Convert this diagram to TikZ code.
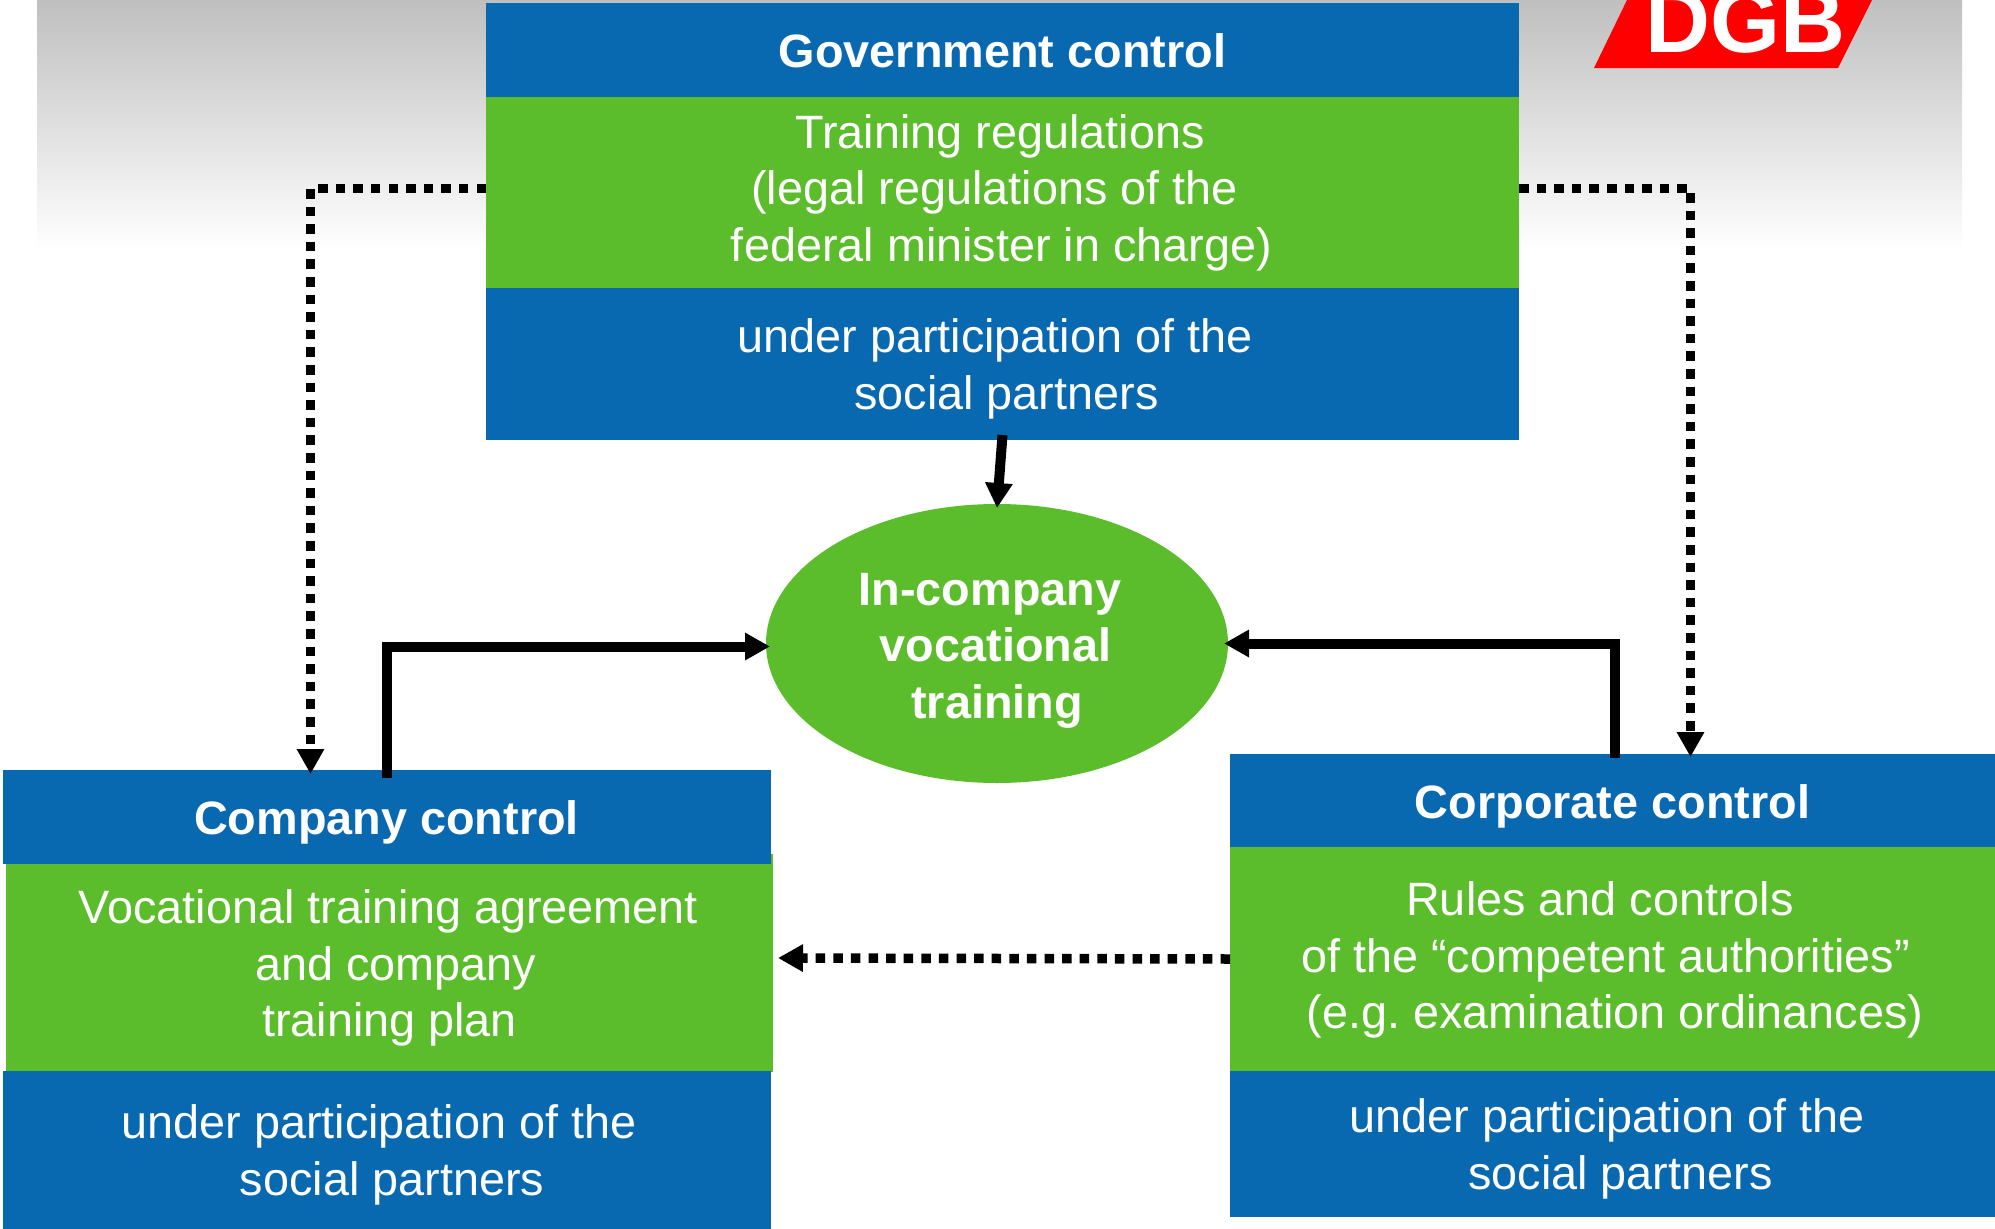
\documentclass[tikz,border=0pt]{standalone}
\usepackage{fontspec}
\setmainfont{Liberation Sans}
\usetikzlibrary{arrows.meta,shapes.geometric}
\definecolor{ctrlblue}{RGB}{8,104,176}
\definecolor{ctrlgreen}{RGB}{92,189,44}
\definecolor{dgbred}{RGB}{255,0,0}
\newcommand{\topgap}[1]{\rule{0pt}{#1pt}}
\newcommand{\nudge}[1]{\hspace*{#1pt}}
\frenchspacing

\begin{document}
\begin{tikzpicture}
  [x=1pt,y=-1pt,every node/.style={inner sep=0pt,outer sep=0pt,text=white,align=center,
     font=\fontsize{46.8}{56.5}\selectfont},
   head/.style={fill=ctrlblue,font=\fontsize{46.8}{56.5}\selectfont\bfseries},
   part/.style={fill=ctrlblue},
   law/.style={fill=ctrlgreen},
   solidline/.style={line width=10pt,-{Triangle[length=25pt,width=26pt]}},
   dotline/.style={line width=9.5pt,dash pattern=on 9.5pt off 8.1pt,-{Triangle[length=25pt,width=26pt]}}]
  \useasboundingbox (0,0) rectangle (1995,1229);
  \shade [top color=black!25,bottom color=white] (37,0) rectangle (1962,250);

  \begin{scope}
    \clip (0,0) rectangle (1995,1229);
    \fill [dgbred] (1594,68) -- (1838,68) -- (1872,0) -- (1627,0) -- cycle;
    \node [anchor=base,font=\fontsize{90}{90}\selectfont\bfseries] (dgb) at (1745,52) {DGB};
  \end{scope}

  \node [head,minimum width=1033pt,minimum height=94pt] (govhead) at (1002.5,50) {\topgap{36}Government control};
  \node [law,minimum width=1033pt,minimum height=192pt] (govlaw) at (1002.5,192.5) {\nudge{-5}Training regulations\\\nudge{-16}(legal regulations of the\\\nudge{-2}federal minister in charge)};
  \node [part,minimum width=1033pt,minimum height=152pt] (govpart) at (1002.5,364) {\topgap{44}\nudge{-15}under participation of the\\\nudge{8}social partners};

  \node [law,minimum width=767pt,minimum height=218pt] (complaw) at (389.5,963) {\topgap{44}\nudge{-2}Vocational training agreement\\\nudge{12}and company\\training plan};
  \node [head,minimum width=768pt,minimum height=94pt] (comphead) at (386.5,817) {\topgap{44}Company control};
  \node [part,minimum width=768pt,minimum height=158pt] (comppart) at (386.5,1150) {\topgap{44}\nudge{-15}under participation of the\\\nudge{11}social partners};

  \node [head,minimum width=765pt,minimum height=93pt] (corphead) at (1612.5,800.5) {\topgap{46}Corporate control};
  \node [law,minimum width=765pt,minimum height=224pt] (corplaw) at (1612.5,959) {\topgap{36}\nudge{-25}Rules and controls\\\nudge{-14}of the “competent authorities”\\\nudge{5}(e.g. examination ordinances)};
  \node [part,minimum width=765pt,minimum height=146pt] (corppart) at (1612.5,1144) {\topgap{44}\nudge{-11}under participation of the\\\nudge{16}social partners};

  \node [ellipse,fill=ctrlgreen,minimum width=462pt,minimum height=279pt,font=\fontsize{46.8}{56.5}\selectfont\bfseries] (training) at (997,643.5) {\topgap{46}\nudge{-14}In-company\\\nudge{-3}vocational\\training};

  \draw [solidline] ([yshift=5pt]govpart.south) -- ([yshift=-4pt]training.north);
  \draw [solidline] ([yshift=-8pt]comphead.north) |- ([xshift=4pt,yshift=-3pt]training.west);
  \draw [solidline] ([xshift=2pt,yshift=-4pt]corphead.north) |- ([xshift=-4pt]training.east);

  \draw [dotline] ([yshift=4pt]govlaw.west) -| ([xshift=-76pt,yshift=-4pt]comphead.north);
  \draw [dotline] ([yshift=4pt]govlaw.east) -| ([xshift=78pt,yshift=-3pt]corphead.north);
  \draw [dotline] (corplaw.west) -- ([xshift=5pt,yshift=5pt]complaw.east);

\end{tikzpicture}
\end{document}
